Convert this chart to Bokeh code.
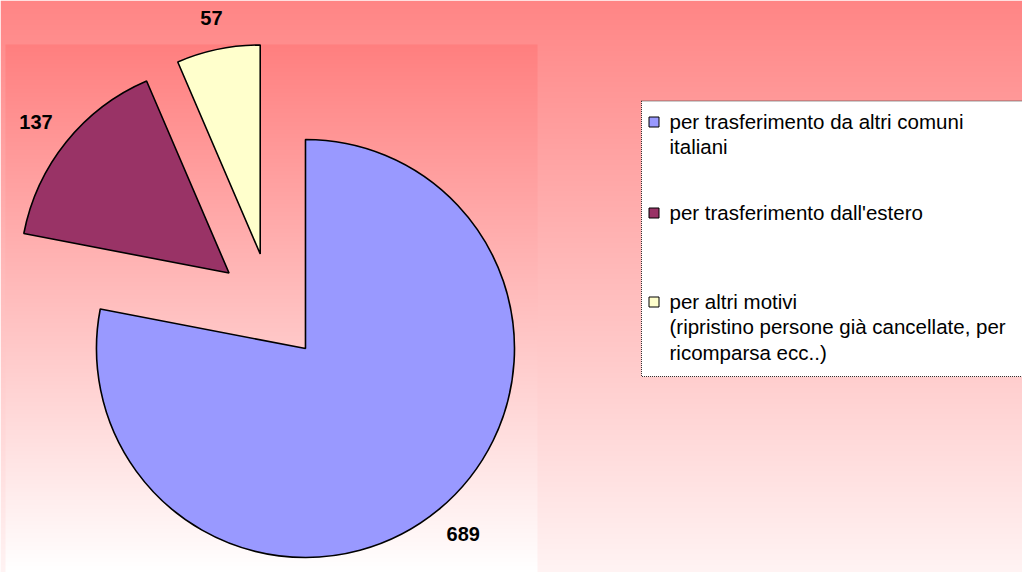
import numpy as np
from bokeh.plotting import figure
from bokeh.models import Range1d, ColumnDataSource
from bokeh.core.properties import value
from bokeh.embed import file_html
from bokeh.resources import INLINE

# ---- data ----
categories = [
    "per trasferimento da altri comuni\nitaliani",
    "per trasferimento dall'estero",
    "per altri motivi\n(ripristino persone già cancellate, per\nricomparsa ecc..)",
]
values = [689, 137, 57]
colors = ["#9999FF", "#993366", "#FFFFCC"]

# ---- layout constants (reference pixel space, y measured from top) ----
W, H = 1022, 572
CX, CY = 270.6, 306.4      # pie centre
R = 209.0                  # radius
EXPLODE = 54.0             # explosion distance of every slice
LABEL_GAP = 22.0           # gap between slice rim and label box
LABEL_FS = 20              # px
FONT = "Liberation Sans"


def fy(y_ref):
    """convert a top-down reference y to the upward data y"""
    return H - y_ref


p = figure(width=W, height=H,
           x_range=Range1d(0, W), y_range=Range1d(0, H),
           output_backend="svg", toolbar_location=None,
           x_axis_type=None, y_axis_type=None,
           min_border=0, outline_line_color=None)
p.grid.visible = False
p.border_fill_color = "white"
p.background_fill_color = "white"


def gradient(n_rows, top_rgb, bottom_rgb):
    t = np.linspace(0.0, 1.0, n_rows)
    img = np.zeros((n_rows, 2), dtype=np.uint32)
    view = img.view(dtype=np.uint8).reshape((n_rows, 2, 4))
    for k in range(3):
        ch = top_rgb[k] + (bottom_rgb[k] - top_rgb[k]) * t
        view[:, :, k] = np.round(ch)[:, None].astype(np.uint8)
    view[:, :, 3] = 255
    return img[::-1]   # row 0 = bottom


# outer background gradient
p.image_rgba(image=[gradient(H, (255, 133, 133), (255, 243, 243))],
             x=0, y=0, dw=W, dh=H)
# plot-area gradient
pa_left, pa_right, pa_top = 5, 537, 44
p.image_rgba(image=[gradient(H - pa_top, (255, 127, 127), (255, 255, 255))],
             x=pa_left, y=0, dw=pa_right - pa_left, dh=H - pa_top)

# ---- pie ----
vals = np.array(values, dtype=float)
frac = vals / vals.sum()
theta_end = np.cumsum(frac) * 2 * np.pi          # clockwise from 12 o'clock
theta_start = theta_end - frac * 2 * np.pi
theta_mid = (theta_start + theta_end) / 2
dx, dy = np.sin(theta_mid), np.cos(theta_mid)

xs = CX + EXPLODE * dx
ys = fy(CY) + EXPLODE * dy

src = ColumnDataSource(dict(
    x=xs, y=ys,
    start=np.pi / 2 - theta_start,
    end=np.pi / 2 - theta_end,
    color=colors,
))
p.wedge(x="x", y="y", radius=R, start_angle="start", end_angle="end",
        direction="clock", fill_color="color", line_color="black",
        line_width=1.6, source=src)

# value labels: placed outside the rim, shifted by half of the text box
labels = [str(v) for v in values]
half_w = np.array([0.28 * LABEL_FS * len(t) for t in labels])
half_h = 0.5 * LABEL_FS
rr = R + EXPLODE + LABEL_GAP
lbl = ColumnDataSource(dict(
    x=CX + rr * dx + half_w * dx,
    y=fy(CY) + rr * dy + half_h * dy,
    t=labels,
))
p.text(x="x", y="y", text="t", source=lbl, text_align="center",
       text_baseline="middle", text_font=value(FONT),
       text_font_style="bold", text_font_size=f"{LABEL_FS}px",
       text_color="black")

# ---- legend ----
p.quad(left=641, right=1040, top=fy(100.5), bottom=fy(376),
       fill_color="white", line_color="#333333", line_width=1,
       line_dash="1 1")

first_line_y = [121.5, 212.5, 301.5]
line_step = 25.5
mk_x = 653.5
txt_x = 669.0

p.scatter(x=[mk_x] * len(categories), y=[fy(v) for v in first_line_y],
          marker="square", size=10, fill_color=colors,
          line_color="black", line_width=1)

tx, ty, tt = [], [], []
for i, cat in enumerate(categories):
    for j, line in enumerate(cat.split("\n")):
        tx.append(txt_x)
        ty.append(fy(first_line_y[i] + j * line_step) + 1)
        tt.append(line)
p.text(x=tx, y=ty, text=tt, text_align="left", text_baseline="middle",
       text_font=value(FONT), text_font_size="20.5px", text_color="black")

open("out.html", "w").write(file_html(p, INLINE))
